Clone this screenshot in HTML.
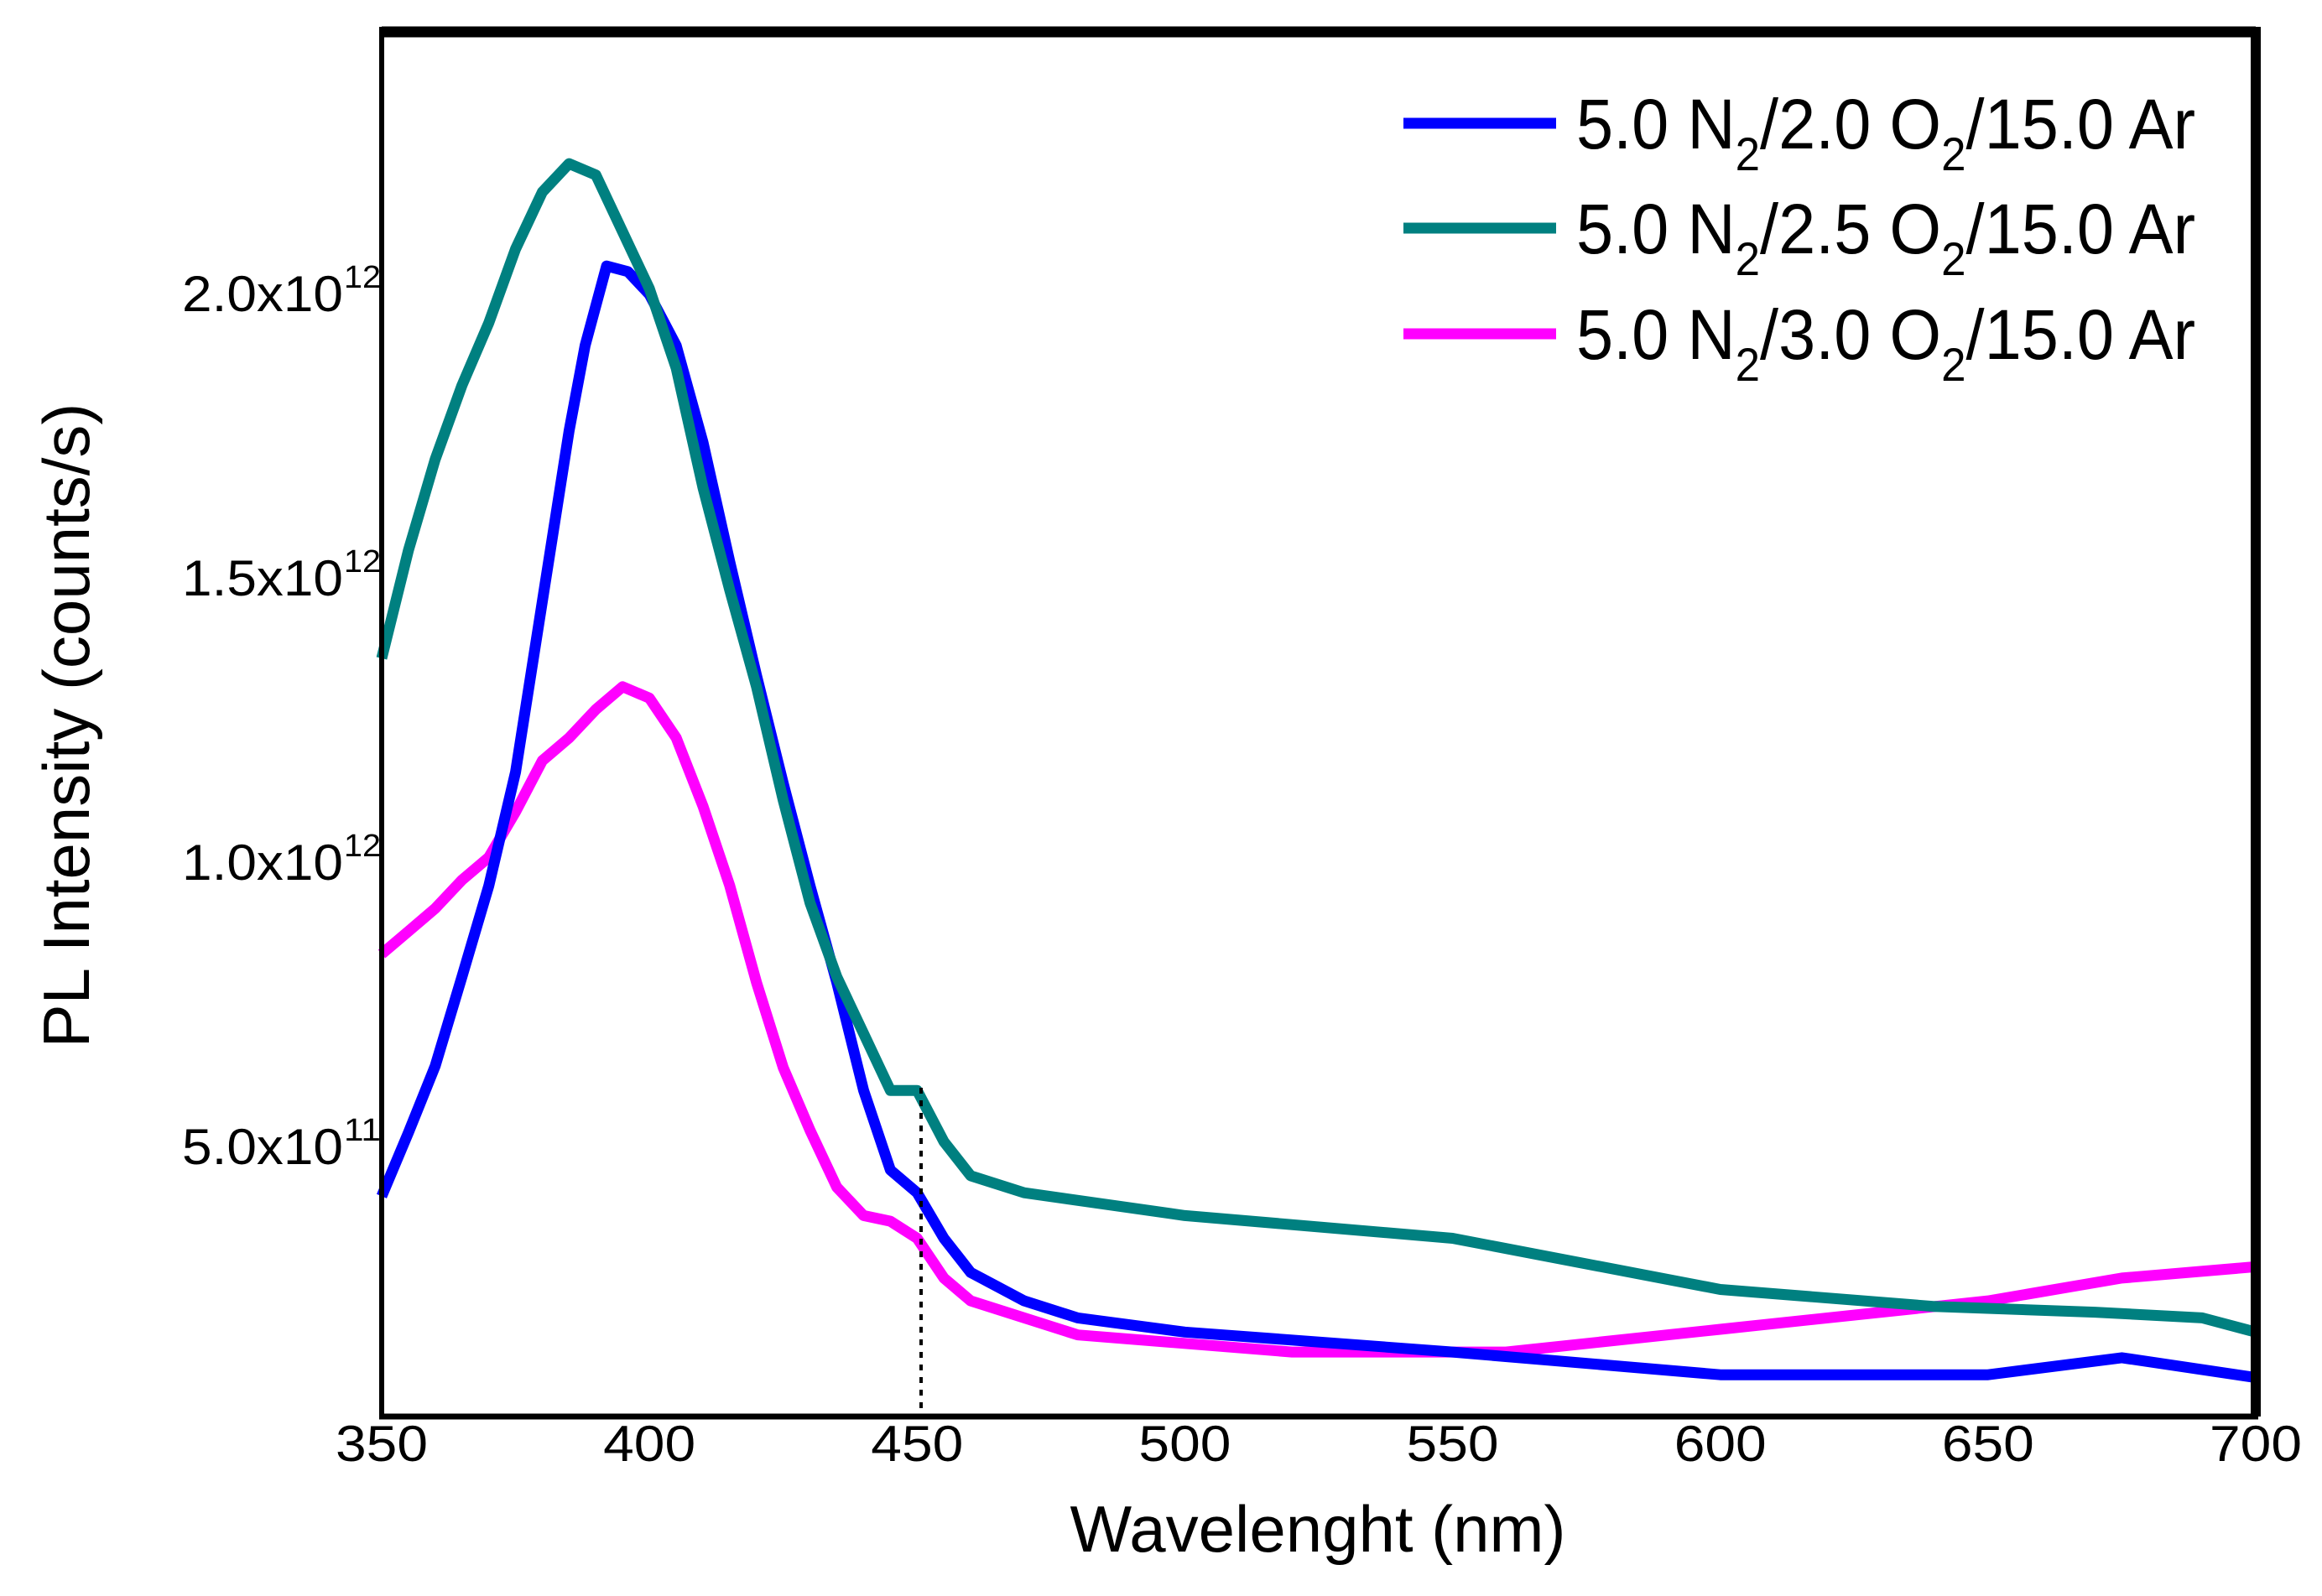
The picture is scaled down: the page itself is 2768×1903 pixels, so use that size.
<!DOCTYPE html>
<html><head><meta charset="utf-8"><style>
html,body{margin:0;padding:0;background:#fff;}
svg{display:block;}
text{font-family:"Liberation Sans",Arial,sans-serif;fill:#000;}
</style></head><body>
<svg id="chart" width="2768" height="1903" viewBox="0 0 2768 1903" xmlns="http://www.w3.org/2000/svg">
<g id="series"></g>
<line x1="1098" y1="1297" x2="1098" y2="1686" stroke="#000" stroke-width="4" stroke-dasharray="7,8"/>
<g>
<line x1="455" y1="38" x2="2689" y2="38" stroke="#000" stroke-width="13"/>
<line x1="2689" y1="32" x2="2689" y2="1689" stroke="#000" stroke-width="12"/>
<line x1="455" y1="32" x2="455" y2="1689" stroke="#000" stroke-width="6"/>
<line x1="452" y1="1689" x2="2692" y2="1689" stroke="#000" stroke-width="7"/>
</g>
<g id="xticks"></g>
<g id="yticks"></g>
<text x="1571" y="1850" font-size="78" text-anchor="middle">Wavelenght (nm)</text>
<text transform="translate(106,865) rotate(-90)" font-size="78" text-anchor="middle">PL Intensity (counts/s)</text>
<g id="legend"></g>
</svg>
<script>
const wlBlue=[350,355,360,365,370,375,380,385,388,392,396,400,405,410,415,420,425,430,435,440,445,450,455,460,470,480,500,550,600,650,675,700];
const valBlue=[4.14,5.26,6.43,8.0,9.6,11.6,14.6,17.6,19.1,20.5,20.4,20.0,19.1,17.4,15.3,13.3,11.4,9.6,7.9,6.0,4.6,4.2,3.4,2.8,2.3,2.0,1.75,1.4,1.0,1.0,1.3,0.95];
const wlTeal=[350,355,360,365,370,375,380,385,390,395,400,405,410,415,420,425,430,435,440,445,450,455,460,470,500,550,600,640,670,690,700];
const valTeal=[13.6,15.5,17.1,18.4,19.5,20.8,21.8,22.3,22.1,21.1,20.1,18.7,16.6,14.8,13.1,11.1,9.3,8.0,7.0,6.0,6.0,5.1,4.5,4.2,3.8,3.4,2.5,2.2,2.1,2.0,1.75];
const wlMag=[350,355,360,365,370,375,380,385,390,395,400,405,410,415,420,425,430,435,440,445,450,455,460,480,520,560,600,650,675,700];
const valMag=[8.4,8.8,9.2,9.7,10.1,10.9,11.8,12.2,12.7,13.1,12.9,12.2,11.0,9.6,7.9,6.4,5.3,4.3,3.8,3.7,3.4,2.7,2.3,1.7,1.4,1.4,1.8,2.3,2.7,2.9];
const xTicks=[350,400,450,500,550,600,650,700];
const yTickVals=[5,10,15,20];
const yTickMant=["5.0","1.0","1.5","2.0"];
const yTickExp=["11","12","12","12"];
const legendLabels=[["5.0 N","2","/2.0 O","2","/15.0 Ar"],["5.0 N","2","/2.5 O","2","/15.0 Ar"],["5.0 N","2","/3.0 O","2","/15.0 Ar"]];
const colors=["#0000ff","#008080","#ff00ff"];

const NS="http://www.w3.org/2000/svg";
const xS=w=>455+(w-350)*(2234/350);
const yS=v=>1707-v*(339/5);

const sg=document.getElementById('series');
const sets=[[wlBlue,valBlue,'series-blue-2-0-o2'],[wlTeal,valTeal,'series-teal-2-5-o2'],[wlMag,valMag,'series-magenta-3-0-o2']];
[2,0,1].forEach(i=>{
  const [wl,val,nm]=sets[i];
  const p=document.createElementNS(NS,'polyline');
  p.setAttribute('points',wl.map((w,k)=>xS(w).toFixed(1)+','+yS(val[k]).toFixed(1)).join(' '));
  p.setAttribute('fill','none');p.setAttribute('stroke',colors[i]);
  p.setAttribute('stroke-width','13');p.setAttribute('stroke-linejoin','round');
  
  
  sg.appendChild(p);
});

const xg=document.getElementById('xticks');
xTicks.forEach(t=>{
  const e=document.createElementNS(NS,'text');
  e.setAttribute('x',xS(t));e.setAttribute('y',1742);
  e.setAttribute('font-size','60');e.setAttribute('text-anchor','middle');
  e.setAttribute('textLength','110');
  e.setAttribute('lengthAdjust','spacingAndGlyphs');
  e.textContent=t;
  
  
  xg.appendChild(e);
});

const yg=document.getElementById('yticks');
yTickVals.forEach((v,i)=>{
  const y=yS(v);
  const e=document.createElementNS(NS,'text');
  e.setAttribute('x',217);e.setAttribute('y',y+20);
  e.setAttribute('font-size','60');
  e.setAttribute('textLength','192');
  e.setAttribute('lengthAdjust','spacingAndGlyphs');
  e.textContent=yTickMant[i]+'x10';
  
  
  yg.appendChild(e);
  const s=document.createElementNS(NS,'text');
  s.setAttribute('x',410);s.setAttribute('y',y-8);
  s.setAttribute('font-size','38');
  s.setAttribute('textLength','44');
  s.setAttribute('lengthAdjust','spacingAndGlyphs');
  s.textContent=yTickExp[i];
  
  
  yg.appendChild(s);
});

const lg=document.getElementById('legend');
const ly=[147,272,398];
legendLabels.forEach((parts,i)=>{
  const l=document.createElementNS(NS,'line');
  l.setAttribute('x1',1673);l.setAttribute('x2',1855);
  l.setAttribute('y1',ly[i]);l.setAttribute('y2',ly[i]);
  l.setAttribute('stroke',colors[i]);l.setAttribute('stroke-width','13');
  
  
  lg.appendChild(l);
  const t=document.createElementNS(NS,'text');
  t.setAttribute('x',1879);t.setAttribute('y',ly[i]+30);
  t.setAttribute('font-size','84');
  t.setAttribute('textLength','738');
  t.setAttribute('lengthAdjust','spacingAndGlyphs');
  parts.forEach((p,k)=>{
    const ts=document.createElementNS(NS,'tspan');
    if(k%2===1){ts.setAttribute('dy','26');ts.setAttribute('font-size','56');}
    else if(k>0){ts.setAttribute('dy','-26');}
    ts.textContent=p;
    t.appendChild(ts);
  });
  
  
  lg.appendChild(t);
});
</script>
</body></html>
